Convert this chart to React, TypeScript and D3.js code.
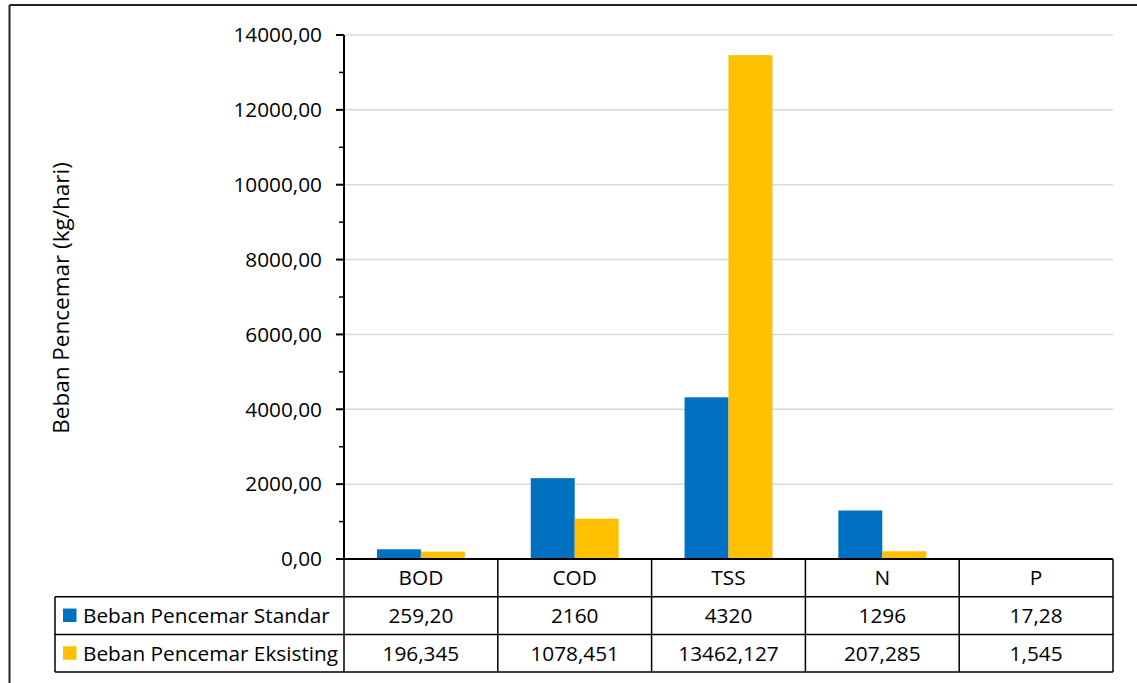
import React from "react";
import * as d3 from "d3";

const categories = ["BOD", "COD", "TSS", "N", "P"];
const seriesNames = ["Beban Pencemar Standar", "Beban Pencemar Eksisting"];
const standar = [259.2, 2160, 4320, 1296, 17.28];
const eksisting = [196.345, 1078.451, 13462.127, 207.285, 1.545];
const standarLabels = ["259,20", "2160", "4320", "1296", "17,28"];
const eksistingLabels = ["196,345", "1078,451", "13462,127", "207,285", "1,545"];
const yTicks = [0, 2000, 4000, 6000, 8000, 10000, 12000, 14000];
const colors = ["#0070C0", "#FFC000"];
const yTitle = "Beban Pencemar (kg/hari)";

const W = 1137;
const H = 683;
const FONT = "'Open Sans', 'Noto Sans', sans-serif";
const FS = 20.8;

export default function App() {
  const left = 344;
  const right = 1113;
  const top = 35;
  const bottom = 559;
  const rowH = 37.7;
  const legendLeft = 55;

  const y = d3.scaleLinear().domain([0, 14000]).range([bottom, top]);
  const x = d3.scaleBand().domain(categories).range([left, right]).paddingInner(0).paddingOuter(0);
  const inner = d3.scaleBand().domain(["0", "1"]).range([0, x.bandwidth()]).paddingInner(0).paddingOuter(0.75);
  const minorTicks = d3.range(1000, 14000, 2000);
  const allSeries = [standar, eksisting];
  const labelRows = [standarLabels, eksistingLabels];

  return (
    <svg width={W} height={H} style={{ position: "absolute", left: 0, top: 0, background: "#fff" }} fontFamily={FONT}>
      <rect x={0} y={0} width={W} height={H} fill="#fff" />
      {/* chart frame */}
      <line x1={9.5} y1={5} x2={W} y2={5} stroke="#222" strokeWidth={2} />
      <line x1={9.5} y1={5} x2={9.5} y2={H} stroke="#222" strokeWidth={2} />

      {/* gridlines */}
      {yTicks.filter((t) => t > 0).map((t) => (
        <line key={"g" + t} x1={left} x2={right} y1={y(t)} y2={y(t)} stroke="#d9d9d9" strokeWidth={1.5} />
      ))}

      {/* bars */}
      {categories.map((c, i) => (
        <g key={c}>
          {allSeries.map((s, k) => (
            <rect
              key={k}
              x={(x(c) as number) + (inner(String(k)) as number)}
              y={y(s[i])}
              width={inner.bandwidth()}
              height={bottom - y(s[i])}
              fill={colors[k]}
            />
          ))}
        </g>
      ))}

      {/* y axis */}
      <line x1={left} x2={left} y1={top} y2={bottom} stroke="#000" strokeWidth={2} />
      {yTicks.map((t) => (
        <g key={"t" + t}>
          <line x1={left - 8} x2={left} y1={y(t)} y2={y(t)} stroke="#000" strokeWidth={2} />
          <text x={322} y={y(t)} dy="0.35em" textAnchor="end" fontSize={FS} fill="#000">
            {d3.format(".2f")(t).replace(".", ",")}
          </text>
        </g>
      ))}
      {minorTicks.map((t) => (
        <line key={"m" + t} x1={left - 5} x2={left} y1={y(t)} y2={y(t)} stroke="#000" strokeWidth={1.5} />
      ))}

      <text
        transform={`translate(69,${(top + bottom) / 2 + 1}) rotate(-90)`}
        textAnchor="middle"
        fontSize={22.5}
        fill="#000"
      >
        {yTitle}
      </text>

      {/* data table */}
      <g stroke="#000" strokeWidth={1.5} fill="none">
        <line x1={left} x2={right} y1={bottom} y2={bottom} strokeWidth={2} />
        <line x1={legendLeft} x2={right} y1={bottom + rowH} y2={bottom + rowH} />
        <line x1={legendLeft} x2={right} y1={bottom + 2 * rowH} y2={bottom + 2 * rowH} />
        <line x1={legendLeft} x2={right} y1={bottom + 3 * rowH} y2={bottom + 3 * rowH} />
        <line x1={legendLeft} x2={legendLeft} y1={bottom + rowH} y2={bottom + 3 * rowH} />
        {categories.map((c) => (
          <line key={"v" + c} x1={x(c)} x2={x(c)} y1={bottom} y2={bottom + 3 * rowH} />
        ))}
        <line x1={right} x2={right} y1={bottom} y2={bottom + 3 * rowH} />
      </g>
      {categories.map((c) => (
        <text
          key={"c" + c}
          x={(x(c) as number) + x.bandwidth() / 2}
          y={bottom + rowH / 2}
          dy="0.35em"
          textAnchor="middle"
          fontSize={FS}
          fill="#000"
        >
          {c}
        </text>
      ))}
      {labelRows.map((row, k) => (
        <g key={"r" + k}>
          <rect x={63} y={bottom + rowH * (k + 1) + rowH / 2 - 7} width={13.5} height={13.5} fill={colors[k]} />
          <text x={83} y={bottom + rowH * (k + 1.5)} dy="0.35em" fontSize={FS} fill="#000">
            {seriesNames[k]}
          </text>
          {row.map((v, i) => (
            <text
              key={i}
              x={(x(categories[i]) as number) + x.bandwidth() / 2}
              y={bottom + rowH * (k + 1.5)}
              dy="0.35em"
              textAnchor="middle"
              fontSize={FS}
              fill="#000"
            >
              {v}
            </text>
          ))}
        </g>
      ))}
    </svg>
  );
}
